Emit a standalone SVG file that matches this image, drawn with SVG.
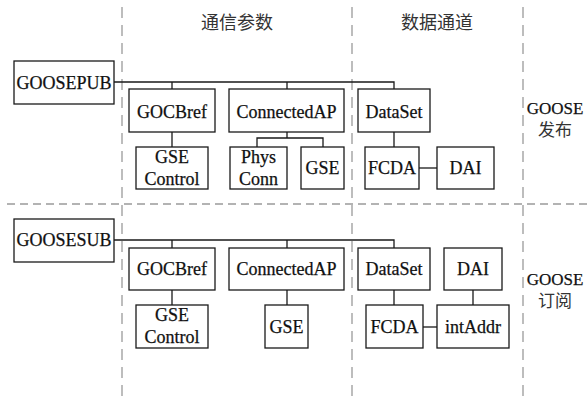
<svg xmlns="http://www.w3.org/2000/svg" width="588" height="396" viewBox="0 0 588 396">
  <style>
    .box { fill: #fff; stroke: #1a1a1a; stroke-width: 1.3; }
    .wire { fill: none; stroke: #1a1a1a; stroke-width: 1.3; }
    .divv { fill: none; stroke: #9a9a9a; stroke-width: 1.3; stroke-dasharray: 11 7; }
    .divh { fill: none; stroke: #9a9a9a; stroke-width: 1.3; stroke-dasharray: 8 5; }
    text { text-anchor: middle; }
    .lbl { font-family: "Liberation Serif", "DejaVu Serif", serif; font-size: 18px; fill: #111; stroke: #111; stroke-width: 0.25; }
    .side { font-family: "Liberation Serif", "DejaVu Serif", serif; font-size: 17px; fill: #111; stroke: #111; stroke-width: 0.25; }
    .head { font-family: "Noto Sans CJK SC", sans-serif; font-size: 18px; fill: #333; }
    .cjk { font-family: "Noto Sans CJK SC", sans-serif; font-size: 17px; fill: #333; }
  </style>

  <!-- region dividers -->
  <g id="dividers">
    <path class="divv" d="M122 7 V396"/>
    <path class="divv" d="M352 7 V396"/>
    <path class="divv" d="M523 7 V396"/>
    <path class="divh" d="M7 204 H588"/>
  </g>

  <!-- column and row headings -->
  <g id="headings">
    <text class="head" x="237" y="29">通信参数</text>
    <text class="head" x="437" y="29">数据通道</text>
    <text class="side" x="555" y="114">GOOSE</text>
    <text class="cjk" x="555" y="136">发布</text>
    <text class="side" x="555" y="285">GOOSE</text>
    <text class="cjk" x="555" y="307">订阅</text>
  </g>

  <!-- connectors -->
  <g id="connectors">
    <path class="wire" d="M114 82 H394 V89 M172 82 V89 M287 82 V89"/>
    <path class="wire" d="M172 132 V147"/>
    <path class="wire" d="M287 132 V138 M257 147 V138 H323 V147"/>
    <path class="wire" d="M394 132 V147"/>
    <path class="wire" d="M419 168 H437"/>

    <path class="wire" d="M114 240 H394 V248 M172 240 V248 M287 240 V248"/>
    <path class="wire" d="M172 290 V305"/>
    <path class="wire" d="M287 290 V305"/>
    <path class="wire" d="M394 290 V305"/>
    <path class="wire" d="M473 290 V305"/>
    <path class="wire" d="M423 327 H437"/>
  </g>

  <g id="nodes">
  <!-- publisher side -->
  <g id="goosepub">
    <rect class="box" x="14" y="61" width="100" height="43"/>
    <text class="lbl" x="64" y="89">GOOSEPUB</text>
  </g>
  <g id="pub-gocbref">
    <rect class="box" x="129" y="89" width="86" height="43"/>
    <text class="lbl" x="172" y="118">GOCBref</text>
  </g>
  <g id="pub-connectedap">
    <rect class="box" x="229" y="89" width="115" height="43"/>
    <text class="lbl" x="286.5" y="118">ConnectedAP</text>
  </g>
  <g id="pub-dataset">
    <rect class="box" x="358" y="89" width="72" height="43"/>
    <text class="lbl" x="394" y="118">DataSet</text>
  </g>
  <g id="pub-gsecontrol">
    <rect class="box" x="136" y="147" width="72" height="42"/>
    <text class="lbl" x="172" y="163">GSE</text>
    <text class="lbl" x="172" y="185">Control</text>
  </g>
  <g id="pub-physconn">
    <rect class="box" x="230" y="147" width="57" height="42"/>
    <text class="lbl" x="258.5" y="163">Phys</text>
    <text class="lbl" x="258.5" y="185">Conn</text>
  </g>
  <g id="pub-gse">
    <rect class="box" x="301" y="147" width="43" height="42"/>
    <text class="lbl" x="322.5" y="174">GSE</text>
  </g>
  <g id="pub-fcda">
    <rect class="box" x="365" y="147" width="54" height="42"/>
    <text class="lbl" x="392" y="174">FCDA</text>
  </g>
  <g id="pub-dai">
    <rect class="box" x="437" y="147" width="57" height="42"/>
    <text class="lbl" x="465.5" y="174">DAI</text>
  </g>

  <!-- subscriber side -->
  <g id="goosesub">
    <rect class="box" x="14" y="219" width="100" height="43"/>
    <text class="lbl" x="64" y="246">GOOSESUB</text>
  </g>
  <g id="sub-gocbref">
    <rect class="box" x="129" y="248" width="86" height="42"/>
    <text class="lbl" x="172" y="275">GOCBref</text>
  </g>
  <g id="sub-connectedap">
    <rect class="box" x="229" y="248" width="115" height="42"/>
    <text class="lbl" x="286.5" y="275">ConnectedAP</text>
  </g>
  <g id="sub-dataset">
    <rect class="box" x="358" y="248" width="72" height="42"/>
    <text class="lbl" x="394" y="275">DataSet</text>
  </g>
  <g id="sub-dai">
    <rect class="box" x="444" y="248" width="58" height="42"/>
    <text class="lbl" x="473" y="275">DAI</text>
  </g>
  <g id="sub-gsecontrol">
    <rect class="box" x="136" y="305" width="72" height="43"/>
    <text class="lbl" x="172" y="321">GSE</text>
    <text class="lbl" x="172" y="343">Control</text>
  </g>
  <g id="sub-gse">
    <rect class="box" x="265" y="305" width="43" height="43"/>
    <text class="lbl" x="286.5" y="332.5">GSE</text>
  </g>
  <g id="sub-fcda">
    <rect class="box" x="366" y="305" width="57" height="43"/>
    <text class="lbl" x="394.5" y="332.5">FCDA</text>
  </g>
  <g id="sub-intaddr">
    <rect class="box" x="437" y="305" width="72" height="43"/>
    <text class="lbl" x="473" y="332.5">intAddr</text>
  </g>
  </g>
</svg>
